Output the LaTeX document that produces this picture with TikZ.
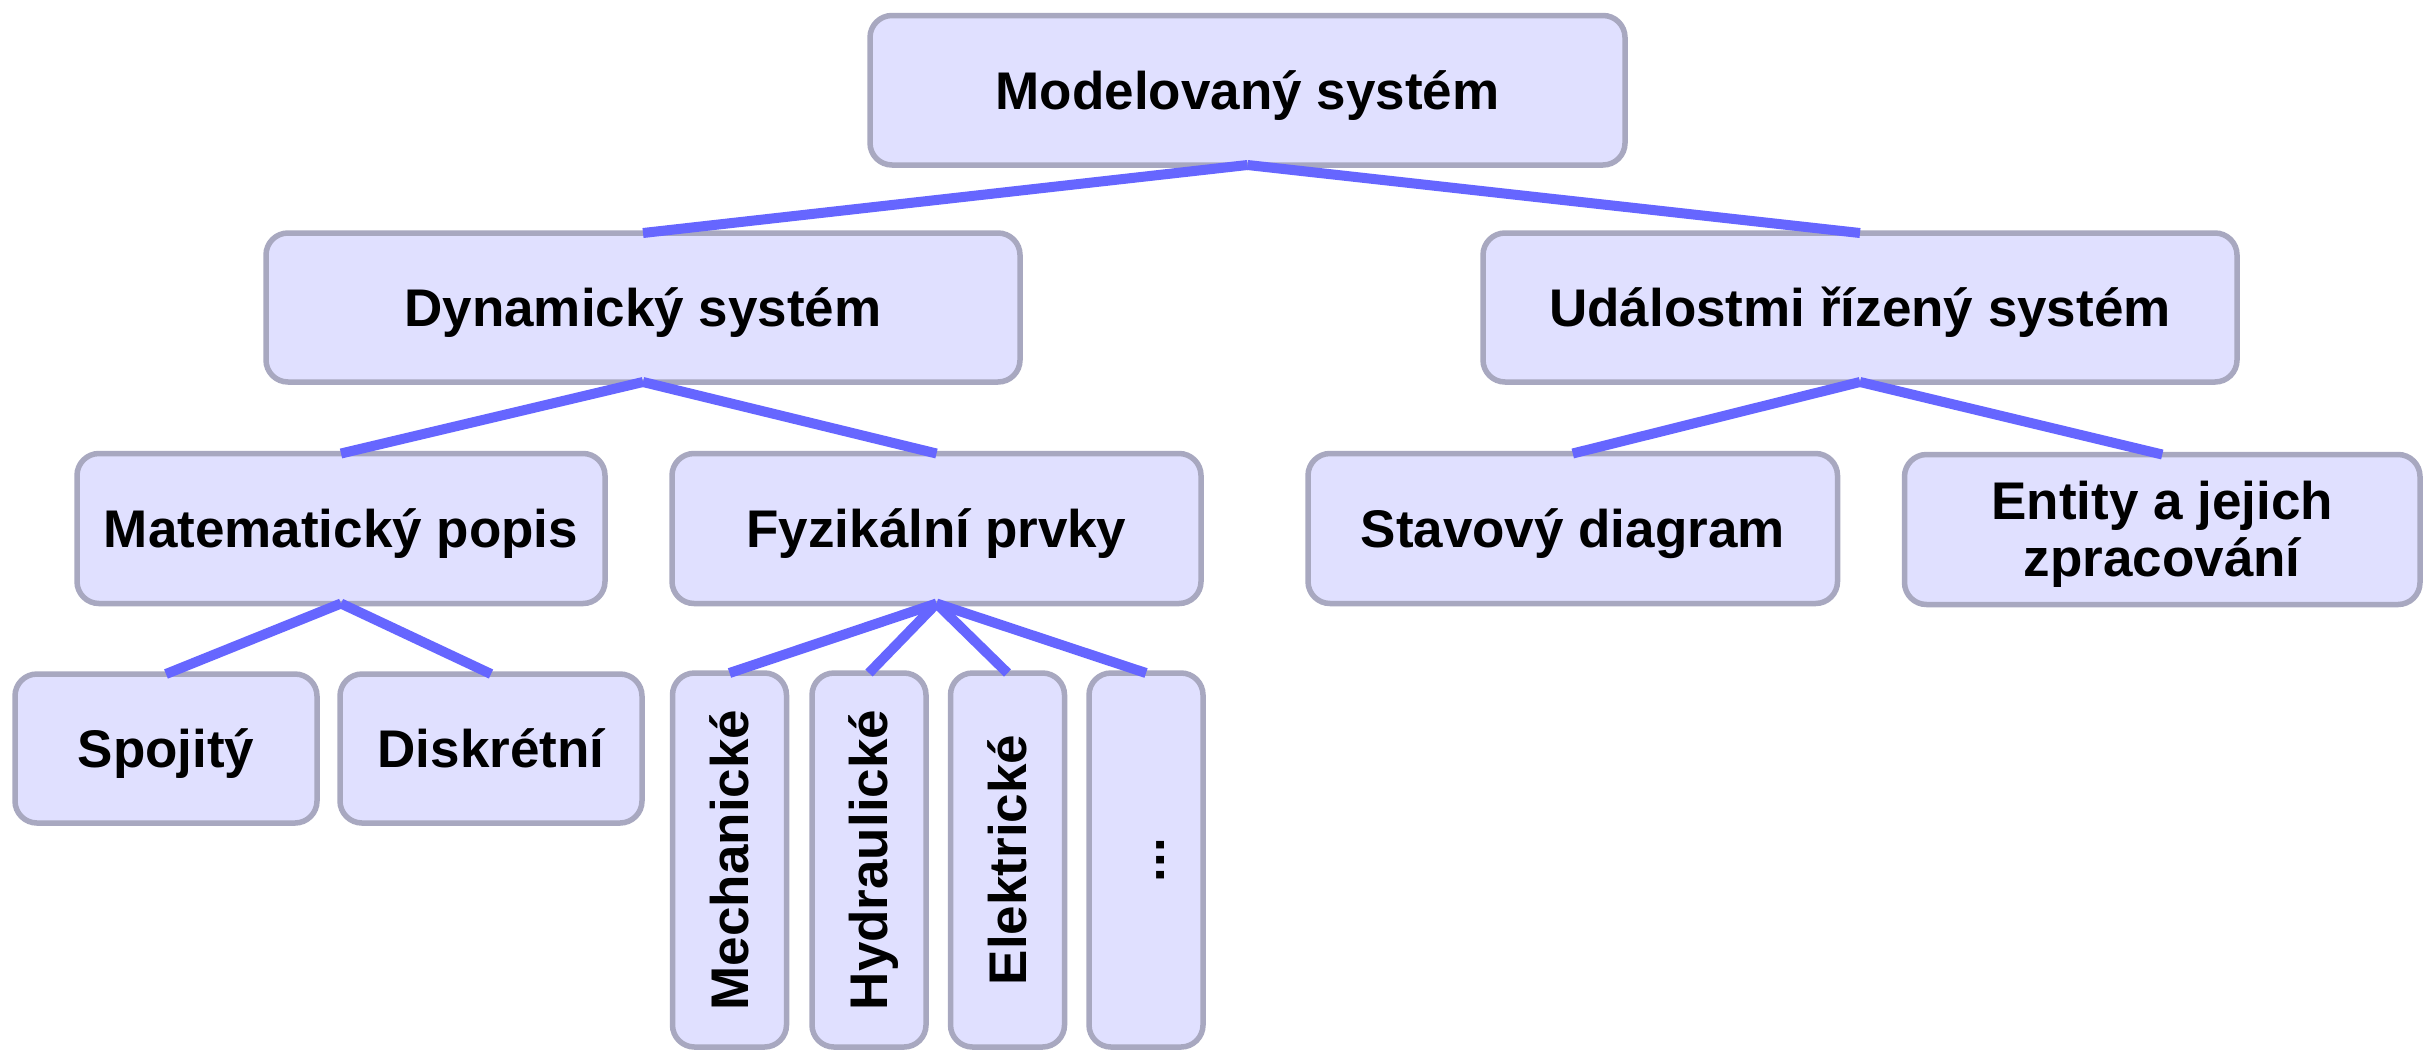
\documentclass[tikz,border=0pt]{standalone}
\usepackage{fontspec}
\usepackage{graphicx}
\setmainfont{Liberation Sans}
\definecolor{boxfill}{HTML}{E0E0FF}
\definecolor{boxline}{HTML}{A8A8C0}
\definecolor{connblue}{HTML}{6666FF}
\newcommand{\capstrut}{\rule[-0.234em]{0pt}{1.184em}}
\tikzset{
  box/.style={draw=boxline, fill=boxfill, line width=5.5pt, rounded corners=22pt,
    inner sep=0pt, outer sep=0pt, font=\fontsize{53}{57}\selectfont\bfseries,
    text height=50.35pt, text depth=12.4pt, align=center},
  bigbox/.style={box, minimum width=754pt, minimum height=149pt},
  midbox/.style={box, minimum width=529pt, minimum height=150pt},
  smallbox/.style={box, minimum width=302pt, minimum height=149pt},
  vbox/.style={box, text height=, text depth=, minimum width=114pt, minimum height=374pt},
  conn/.style={draw=connblue, line width=10pt, line cap=butt}
}
\newcommand{\vtext}[1]{\rotatebox{90}{\capstrut#1}}
\begin{document}
\begin{tikzpicture}[x=1pt,y=-1pt]
\useasboundingbox (0,0) rectangle (2424,1050);
\fill[white] (0,0) rectangle (2424,1050);
\node[bigbox, minimum width=755pt, minimum height=149.5pt] (mod) at (1247.5,90.25) {Modelovaný systém};
\node[bigbox] (dyn) at (643,307.5) {Dynamický systém};
\node[bigbox] (udal) at (1860,307.5) {Událostmi řízený systém};
\node[midbox, minimum width=528pt] (mat) at (341,528.5) {Matematický popis};
\node[midbox] (fyz) at (936.5,528.5) {Fyzikální prvky};
\node[midbox, minimum width=529.5pt] (stav) at (1572.75,528.5) {Stavový diagram};
\node[midbox, minimum width=515.5pt, text height=, text depth=] (ent) at (2162.25,529.5) {\rule{0pt}{48.6pt}Entity a jejich\\zpracování};
\node[smallbox] (spoj) at (166,748.5) {Spojitý};
\node[smallbox] (disk) at (491,748.5) {Diskrétní};
\node[vbox] (mech) at (729.5,860) {\vtext{Mechanické}};
\node[vbox] (hyd) at (869,860) {\vtext{Hydraulické}};
\node[vbox] (ele) at (1007.5,860) {\vtext{Elektrické}};
\node[vbox] (dots) at (1146,860) {\vtext{...}};
\draw[conn] (mod.south) -- (dyn.north);
\draw[conn] (mod.south) -- (udal.north);
\draw[conn] (dyn.south) -- (mat.north);
\draw[conn] (dyn.south) -- (fyz.north);
\draw[conn] (udal.south) -- (stav.north);
\draw[conn] (udal.south) -- (ent.north);
\draw[conn] (mat.south) -- (spoj.north);
\draw[conn] (mat.south) -- (disk.north);
\draw[conn] (fyz.south) -- (mech.north);
\draw[conn] (fyz.south) -- (hyd.north);
\draw[conn] (fyz.south) -- (ele.north);
\draw[conn] (fyz.south) -- (dots.north);
\end{tikzpicture}
\end{document}
